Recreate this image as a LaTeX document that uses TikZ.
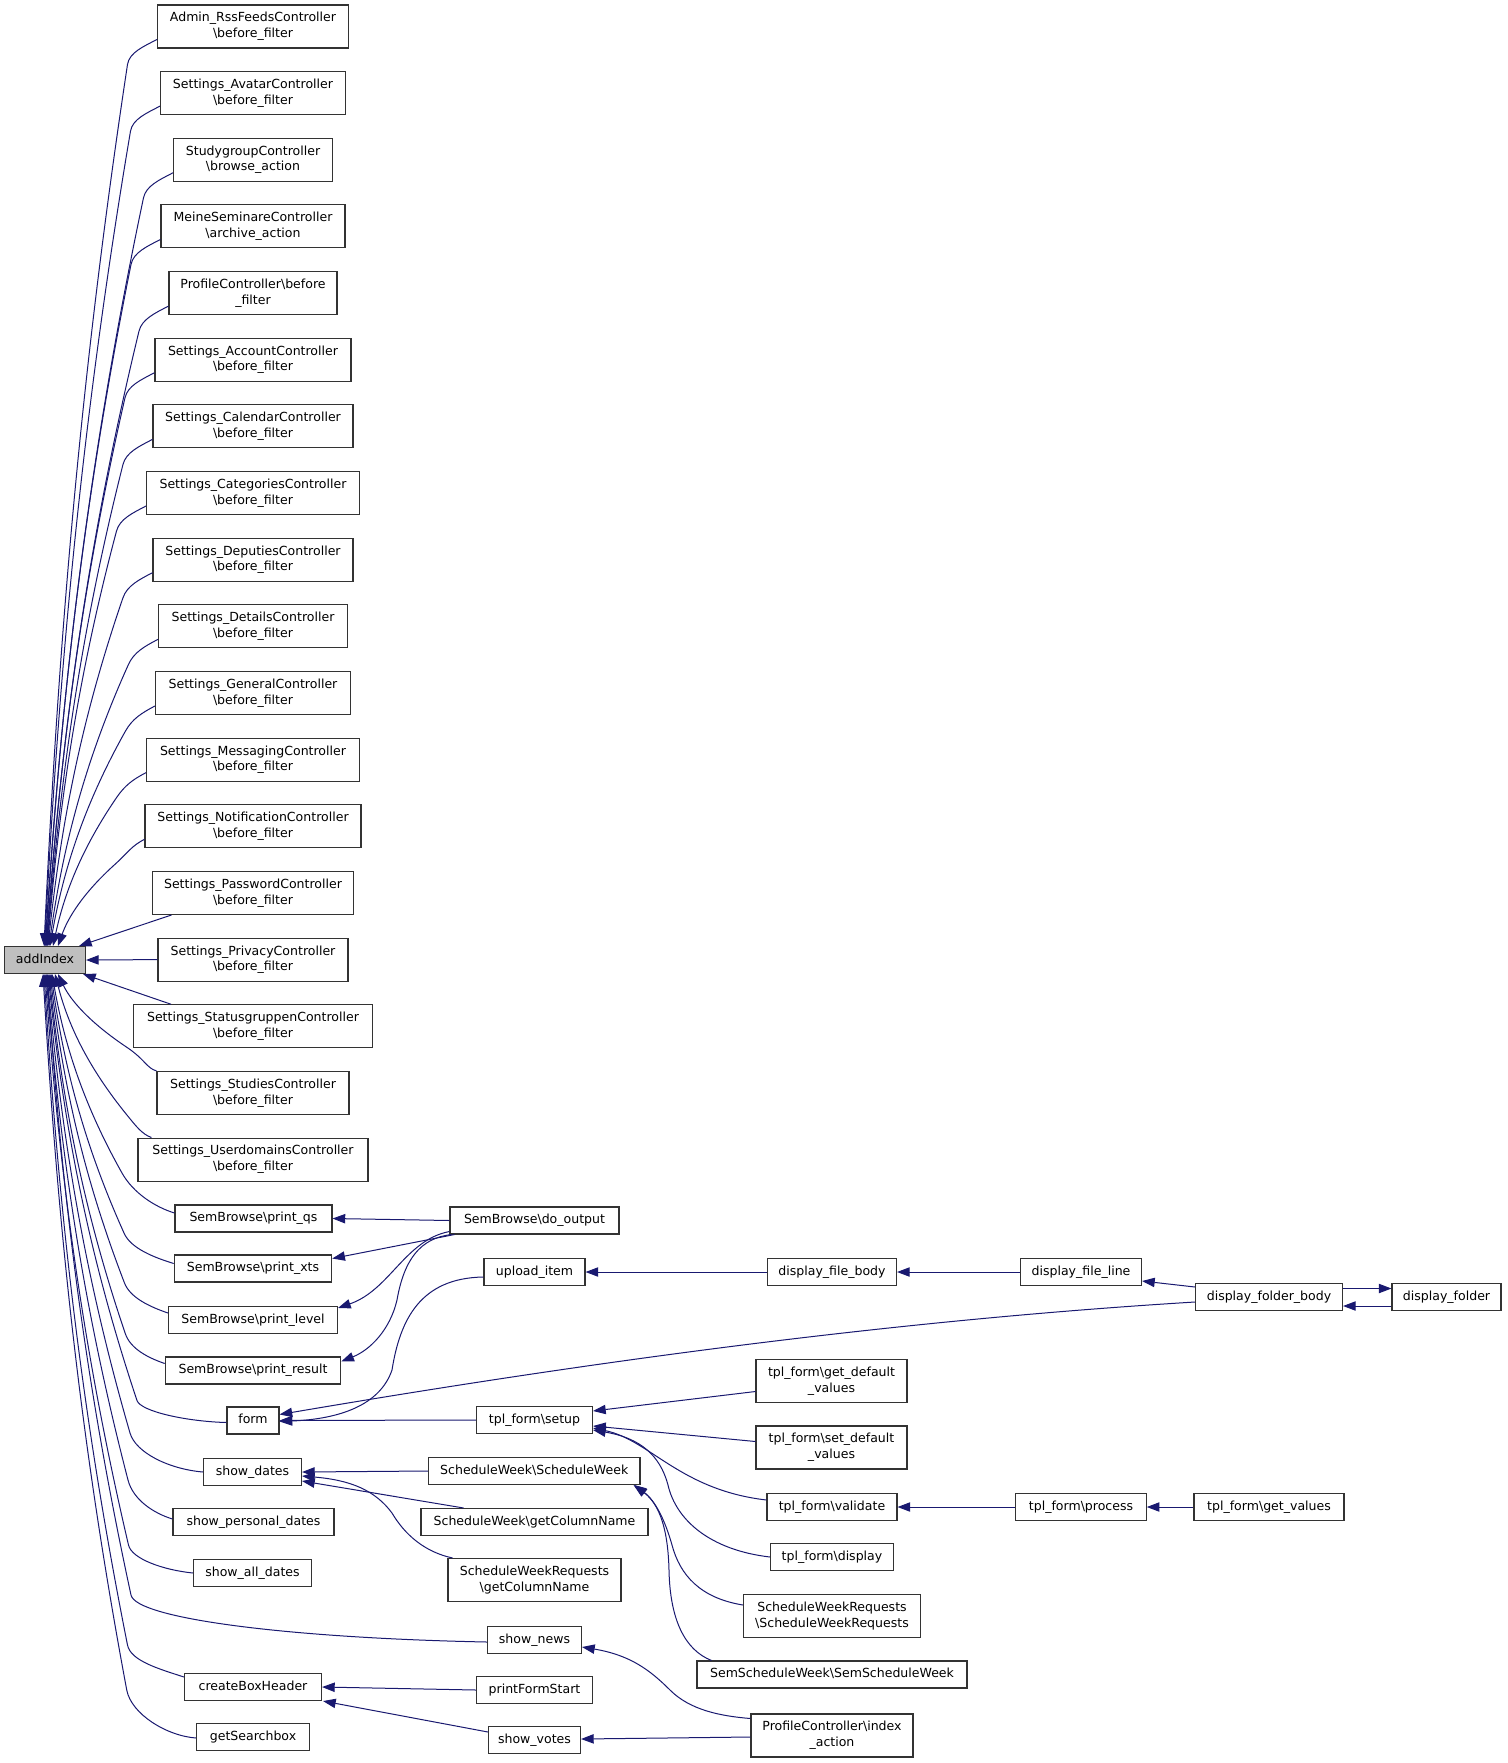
\documentclass[tikz,border=0pt]{standalone}
\usepackage{fontspec}
\setmainfont{DejaVu Sans}
\usetikzlibrary{arrows.meta,calc}
\definecolor{edgecol}{HTML}{191970}
\definecolor{boxcol}{HTML}{333333}
\definecolor{hlfill}{HTML}{BFBFBF}
\newcommand\myBS{\textbackslash}
% edge from a box above addIndex: #1 node, #2 tip x, #3 box left x, #4 box centre y
\newcommand\topE[4]{%
  \pgfmathsetmacro\eSy{#4+13}%
  \pgfmathsetmacro\eJx{#3-30}\pgfmathsetmacro\eJy{\eSy+25}%
  \pgfmathsetmacro\eddy{946.5-\eJy}\pgfmathsetmacro\eddx{\eJx-#2}%
  \pgfmathsetmacro\cAx{#2+0.175*\eddx}\pgfmathsetmacro\cAy{946.5-0.35*\eddy}%
  \pgfmathsetmacro\cBx{\eJx-0.56*\eddx}\pgfmathsetmacro\cBy{\eJy+0.35*\eddy}%
  \pgfmathsetmacro\cCx{\eJx+1.6*\eddx/\eddy*12}\pgfmathsetmacro\cCy{\eJy-12}%
  \pgfmathsetmacro\cDx{#3-14}\pgfmathsetmacro\cDy{\eSy+7}%
  \draw[arr] ($(addIndex.north)+(#2-45,0)$) .. controls (\cAx,\cAy) and (\cBx,\cBy) .. (\eJx,\eJy)
     .. controls (\cCx,\cCy) and (\cDx,\cDy) .. ($(#1.west)+(0,13)$);
}
% edge from a box below addIndex: #1 end spec, #2 tip x, #3 end x, #4 end y, #5 a, #6 b, #7 n, #8 q
\newcommand\botE[8]{%
  \pgfmathsetmacro\eJx{#3-#5}\pgfmathsetmacro\eJy{#4-#6}%
  \pgfmathsetmacro\eddy{\eJy-973.5}\pgfmathsetmacro\eddx{\eJx-#2}%
  \pgfmathsetmacro\cAx{#2+0.175*\eddx}\pgfmathsetmacro\cAy{973.5+0.35*\eddy}%
  \pgfmathsetmacro\cBx{\eJx-0.56*\eddx}\pgfmathsetmacro\cBy{\eJy-0.35*\eddy}%
  \pgfmathsetmacro\eM{0.5*#6}%
  \pgfmathsetmacro\cCx{\eJx+1.6*\eddx/\eddy*\eM}\pgfmathsetmacro\cCy{\eJy+\eM}%
  \pgfmathsetmacro\cDx{#3-#7}\pgfmathsetmacro\cDy{#4-#8}%
  \draw[arr] ($(addIndex.south)+(#2-45,0)$) .. controls (\cAx,\cAy) and (\cBx,\cBy) .. (\eJx,\eJy)
     .. controls (\cCx,\cCy) and (\cDx,\cDy) .. ($#1$);
}
\tikzset{
  fn/.style={draw=boxcol, line width=0.8pt, fill=white, inner sep=0pt, align=center,
             font=\fontsize{9.4}{11.8}\selectfont},
  one/.style={fn, minimum height=20.25pt, text height=7pt, text depth=2pt},
  two/.style={fn, minimum height=32.25pt},
  wd/.style={minimum width={#1*0.75pt}},
  arr/.style={draw=edgecol, line width=0.75pt, arrows={Triangle[length=9.5pt,width=7pt]-}}
}
\begin{document}
\begin{tikzpicture}[x=0.75pt,y=-0.75pt]
\fill[white] (0,0) rectangle (1507,1763);
\useasboundingbox (0,0) rectangle (1507,1763);

% ---------- nodes ----------
\node[one, wd=81, fill=hlfill] (addIndex) at (45,960) {addIndex};

\node[two, wd=191] (n0) at (253,26.5) {Admin\_RssFeedsController\\\myBS before\_filter};
\node[two, wd=185] (n1) at (253,93.15) {Settings\_AvatarController\\\myBS before\_filter};
\node[two, wd=159] (n2) at (253,159.8) {StudygroupController\\\myBS browse\_action};
\node[two, wd=184] (n3) at (253,226.45) {MeineSeminareController\\\myBS archive\_action};
\node[two, wd=168] (n4) at (253,293.1) {ProfileController\myBS before\\\_filter};
\node[two, wd=196] (n5) at (253,359.75) {Settings\_AccountController\\\myBS before\_filter};
\node[two, wd=200] (n6) at (253,426.4) {Settings\_CalendarController\\\myBS before\_filter};
\node[two, wd=213] (n7) at (253,493.05) {Settings\_CategoriesController\\\myBS before\_filter};
\node[two, wd=200] (n8) at (253,559.7) {Settings\_DeputiesController\\\myBS before\_filter};
\node[two, wd=189] (n9) at (253,626.35) {Settings\_DetailsController\\\myBS before\_filter};
\node[two, wd=195] (n10) at (253,693) {Settings\_GeneralController\\\myBS before\_filter};
\node[two, wd=213] (n11) at (253,759.65) {Settings\_MessagingController\\\myBS before\_filter};
\node[two, wd=216] (n12) at (253,826.3) {Settings\_NotificationController\\\myBS before\_filter};
\node[two, wd=201] (n13) at (253,892.95) {Settings\_PasswordController\\\myBS before\_filter};
\node[two, wd=190] (n14) at (253,959.6) {Settings\_PrivacyController\\\myBS before\_filter};
\node[two, wd=239] (n15) at (253,1026.25) {Settings\_StatusgruppenController\\\myBS before\_filter};
\node[two, wd=192] (n16) at (253,1092.9) {Settings\_StudiesController\\\myBS before\_filter};
\node[two, wd=230] (n17) at (253,1159.55) {Settings\_UserdomainsController\\\myBS before\_filter};

\node[one, wd=157] (pqs) at (253.5,1218.5) {SemBrowse\myBS print\_qs};
\node[one, wd=157.5] (pxts) at (253,1268.5) {SemBrowse\myBS print\_xts};
\node[one, wd=169] (plvl) at (253,1320) {SemBrowse\myBS print\_level};
\node[one, wd=175.5] (pres) at (253,1370.5) {SemBrowse\myBS print\_result};
\node[one, wd=52] (form) at (253,1420.5) {form};
\node[one, wd=98] (sd) at (252.5,1472) {show\_dates};
\node[one, wd=161] (spd) at (253.5,1522) {show\_personal\_dates};
\node[one, wd=118] (sad) at (252.5,1573) {show\_all\_dates};
\node[one, wd=137] (cbh) at (253,1687) {createBoxHeader};
\node[one, wd=112.5] (gsb) at (253,1737) {getSearchbox};

\node[one, wd=169] (dout) at (534.5,1220.5) {SemBrowse\myBS do\_output};
\node[one, wd=101] (upl) at (534.5,1272) {upload\_item};
\node[one, wd=116] (setup) at (534.5,1420) {tpl\_form\myBS setup};
\node[one, wd=211.5] (sw) at (534.25,1471) {ScheduleWeek\myBS ScheduleWeek};
\node[one, wd=227] (swg) at (534.5,1522) {ScheduleWeek\myBS getColumnName};
\node[two, wd=173] (swrg) at (534.5,1580) {ScheduleWeekRequests\\\myBS getColumnName};
\node[one, wd=94] (sn) at (534.5,1640) {show\_news};
\node[one, wd=116] (pfs) at (534.5,1690) {printFormStart};
\node[one, wd=92] (sv) at (534.5,1740) {show\_votes};

\node[one, wd=129] (dfb) at (832,1272) {display\_file\_body};
\node[two, wd=151] (gdv) at (831.5,1381) {tpl\_form\myBS get\_default\\\_values};
\node[two, wd=151] (sdv) at (831.5,1447.5) {tpl\_form\myBS set\_default\\\_values};
\node[one, wd=130] (val) at (832,1507) {tpl\_form\myBS validate};
\node[one, wd=123] (disp) at (832,1557) {tpl\_form\myBS display};
\node[two, wd=177] (swr) at (832,1616) {ScheduleWeekRequests\\\myBS ScheduleWeekRequests};
\node[one, wd=270] (ssw) at (832,1674.5) {SemScheduleWeek\myBS SemScheduleWeek};
\node[two, wd=162] (pci) at (832,1735.5) {ProfileController\myBS index\\\_action};

\node[one, wd=121] (dfl) at (1081,1272) {display\_file\_line};
\node[one, wd=130.5] (proc) at (1081,1507) {tpl\_form\myBS process};
\node[one, wd=147] (dfob) at (1269,1297) {display\_folder\_body};
\node[one, wd=150] (getv) at (1269,1507) {tpl\_form\myBS get\_values};
\node[one, wd=109] (dfold) at (1446.5,1297) {display\_folder};

% ---------- edges into addIndex ----------
\topE{n0}{44}{157.5}{26.5}
\topE{n1}{44.5}{160.5}{93.15}
\topE{n2}{45}{173.5}{159.8}
\topE{n3}{45.5}{161}{226.45}
\topE{n4}{46}{169}{293.1}
\topE{n5}{46.5}{155}{359.75}
\topE{n6}{47}{153}{426.4}
\topE{n7}{47.5}{146.5}{493.05}
\topE{n8}{48}{153}{559.7}
\topE{n9}{49}{158.5}{626.35}
\topE{n10}{50}{155.5}{693}
\topE{n11}{53}{146.5}{759.65}
\topE{n12}{58}{145}{826.3}
\draw[arr] ($(addIndex.north east)+(-7,0)$) -- ($(n13.south west)+(19.5,0)$);
\draw[arr] (addIndex.east) -- (n14.west);
\draw[arr] ($(addIndex.south east)+(-3,0)$) -- ($(n15.north west)+(38,0)$);
\botE{(n16.north west)}{58}{157}{1071.4}{30}{24}{10}{3}
\botE{(n17.north west)+(14,0)}{55}{152}{1138.05}{25}{23}{10}{4}
\botE{(pqs.west)+(0,-5.5)}{52}{175}{1213}{53}{40}{20}{6}
\botE{(pxts.west)+(0,-5)}{51}{174.25}{1263.5}{50}{30}{20}{6}
\botE{(plvl.west)+(0,-7)}{50}{168.5}{1313}{44}{30}{18}{6}
\botE{(pres.west)+(0,-7)}{49}{165.25}{1363.5}{40}{30}{18}{6}
\botE{(form.west)+(0,2)}{48}{227}{1422.5}{90}{22}{40}{1}
\botE{(sd.west)}{47}{203.5}{1472}{73.5}{39}{35}{3}
\botE{(spd.west)+(0,-3)}{46}{173}{1519}{45}{39}{20}{6}
\botE{(sad.west)}{45}{193.5}{1573}{65}{28}{30}{3}
\botE{(sn.west)+(0,2)}{47}{487.5}{1642}{356.5}{47}{200}{4}
\botE{(cbh.west)+(0,-10)}{44}{184.5}{1677}{57}{32}{25}{8}
\botE{(gsb.west)+(0,1)}{43}{196.75}{1738}{70}{48}{30}{2}

% ---------- SemBrowse ----------
\draw[arr] (pqs.east) -- (dout.west);
\draw[arr] ($(pxts.east)+(0,-10)$) -- ($(dout.south west)+(5,0)$);
\draw[arr] ($(plvl.north east)+(0,2)$) .. controls (390,1290) and (405,1240) .. ($(dout.west)+(0,11)$);
\draw[arr] ($(pres.north east)+(0,5)$) .. controls (370,1350) and (390,1330) .. (397,1300)
   .. controls (404,1260) and (420,1238) .. ($(dout.south west)+(2,0)$);

% ---------- form ----------
\draw[arr] (form.east) -- (setup.west);
\draw[arr] ($(form.east)+(0,1)$) .. controls (340,1419) and (380,1405) .. (392,1370)
   .. controls (400,1320) and (420,1278) .. ($(upl.west)+(0,5)$);
\draw[arr] ($(form.east)+(0,-6)$) .. controls (600,1360) and (900,1320) .. ($(dfob.west)+(0,5)$);

% ---------- files / folders ----------
\draw[arr] (upl.east) -- (dfb.west);
\draw[arr] (dfb.east) -- (dfl.west);
\draw[arr] ($(dfl.east)+(0,9)$) -- ($(dfob.west)+(0,-10)$);
\draw[arr] ($(dfold.west)+(0,-8.5)$) -- ($(dfob.east)+(0,-8.5)$);
\draw[arr] ($(dfob.east)+(0,9)$) -- ($(dfold.west)+(0,9)$);

% ---------- tpl_form ----------
\draw[arr] ($(setup.east)+(0,-9)$) -- ($(gdv.west)+(0,10.5)$);
\draw[arr] ($(setup.east)+(0,6)$) -- ($(sdv.west)+(0,-6)$);
\draw[arr] ($(setup.east)+(0,8)$) .. controls (650,1440) and (680,1490) .. ($(val.west)+(0,-7)$);
\draw[arr] ($(setup.east)+(0,10)$) .. controls (640,1438) and (660,1455) .. (668,1485)
   .. controls (676,1520) and (710,1550) .. (disp.west);
\draw[arr] (val.east) -- (proc.west);
\draw[arr] (proc.east) -- (getv.west);

% ---------- show_dates / ScheduleWeek ----------
\draw[arr] (sd.east) -- (sw.west);
\draw[arr] ($(sd.east)+(0,9)$) -- ($(swg.north west)+(43,0)$);
\draw[arr] ($(sd.east)+(0,4)$) .. controls (350,1480) and (375,1490) .. (392,1513)
   .. controls (405,1535) and (425,1552) .. ($(swrg.north west)+(5,0)$);
\draw[arr] ($(sw.south east)+(-7,0)$) .. controls (655,1500) and (665,1520) .. (672,1545)
   .. controls (680,1575) and (700,1598) .. ($(swr.west)+(0,-11)$);
\draw[arr] ($(sw.south east)+(-6,0)$) .. controls (660,1505) and (668,1530) .. (669,1570)
   .. controls (670,1620) and (685,1650) .. ($(ssw.north west)+(15,0)$);

% ---------- news / votes / box header ----------
\draw[arr] ($(sn.east)+(0,7)$) .. controls (630,1655) and (650,1670) .. (670,1690)
   .. controls (690,1710) and (720,1716) .. ($(pci.west)+(0,-17)$);
\draw[arr] ($(sv.east)+(0,-1)$) -- ($(pci.west)+(0,1.5)$);
\draw[arr] (cbh.east) -- (pfs.west);
\draw[arr] ($(cbh.south east)+(1,0)$) -- ($(sv.west)+(0,-8)$);
\end{tikzpicture}
\end{document}
